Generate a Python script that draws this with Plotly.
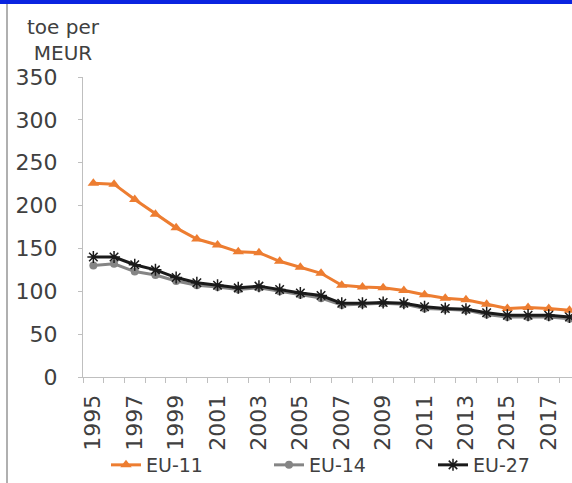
import plotly.graph_objects as go

years = list(range(1995, 2019))
eu11 = [226, 225, 207, 190, 174, 161, 154, 146, 145, 135, 128, 121, 107, 105, 104, 101, 96, 92, 90, 85, 80, 81, 80, 78]
eu14 = [130, 132, 123, 119, 112, 107, 105, 102, 104, 100, 96, 92, 84, 85, 86, 85, 80, 79, 78, 73, 70, 70, 70, 68]
eu27 = [140, 140, 131, 125, 116, 110, 107, 104, 106, 102, 98, 95, 86, 86, 87, 86, 82, 80, 79, 75, 72, 72, 72, 70]
tick_years = list(range(1995, 2018, 2))
y_ticks = [0, 50, 100, 150, 200, 250, 300, 350]

FONT = "DejaVu Sans"
TXT = "#404040"
AX = "#bfbfbf"

W, H = 572, 483
L, R, T, B = 83, 0, 77, 106
pw, ph = W - L - R, H - T - B
px_per_cat = 20.7

def fx(px):
    return (px - L) / pw

def fy(py):
    return (H - B - py) / ph

fig = go.Figure()
fig.add_trace(go.Scatter(
    x=years, y=eu11, name="EU-11", mode="lines+markers", legend="legend",
    line=dict(color="#ED7D31", width=3),
    marker=dict(symbol="triangle-up", size=10, color="#ED7D31"),
))
fig.add_trace(go.Scatter(
    x=years, y=eu14, name="EU-14", mode="lines+markers", legend="legend2",
    line=dict(color="#858585", width=3),
    marker=dict(symbol="circle", size=8, color="#858585"),
))
fig.add_trace(go.Scatter(
    x=years, y=eu27, name="EU-27", mode="lines+markers", legend="legend3",
    line=dict(color="#1a1a1a", width=3),
    marker=dict(symbol="asterisk", size=10, color="#1a1a1a",
                line=dict(color="#1a1a1a", width=1.5)),
))

def leg(px):
    return dict(
        orientation="h", x=fx(px), y=fy(465), xanchor="left", yanchor="middle",
        font=dict(family=FONT, size=19, color=TXT),
        bgcolor="rgba(0,0,0,0)", borderwidth=0,
    )

fig.update_layout(
    width=W, height=H,
    margin=dict(l=L, r=R, t=T, b=B, pad=0, autoexpand=False),
    paper_bgcolor="white", plot_bgcolor="white",
    font=dict(family=FONT, color=TXT, size=20),
    showlegend=True,
    legend=leg(106), legend2=leg(269), legend3=leg(433),
    xaxis=dict(
        range=[years[0] - 0.5, years[0] - 0.5 + pw / px_per_cat],
        tickmode="array", tickvals=tick_years, ticktext=[str(y) for y in tick_years],
        tickangle=-90, ticks="", showgrid=False, zeroline=False,
        showline=True, linecolor=AX, linewidth=1,
        tickfont=dict(family=FONT, size=22, color=TXT),
        minor=dict(ticks="outside", tick0=years[0] - 0.5, dtick=1, ticklen=5,
                   tickcolor=AX, showgrid=False),
        ticklabelstandoff=8,
    ),
    yaxis=dict(
        range=[0, 350], tickmode="array", tickvals=y_ticks,
        ticks="outside", ticklen=4, tickcolor=AX,
        showgrid=False, zeroline=False,
        showline=True, linecolor=AX, linewidth=1,
        tickfont=dict(family=FONT, size=22, color=TXT),
        ticklabelstandoff=16,
    ),
    annotations=[dict(
        text="toe per<br>MEUR", xref="paper", yref="paper",
        x=fx(63), y=fy(40), xanchor="center", yanchor="middle",
        showarrow=False, align="center",
        font=dict(family=FONT, size=20, color=TXT),
    )],
    shapes=[
        dict(type="rect", xref="paper", yref="paper",
             x0=fx(0), x1=fx(W), y0=fy(0), y1=fy(4),
             fillcolor="#0a24e0", line=dict(width=0), layer="above"),
        dict(type="line", xref="paper", yref="paper",
             x0=fx(7), x1=fx(7), y0=fy(4), y1=fy(H),
             line=dict(color="#b0b0b0", width=2)),
    ],
)

fig.write_html("out.html", config={"displayModeBar": False},
               post_script="document.body.style.margin='0px';")
